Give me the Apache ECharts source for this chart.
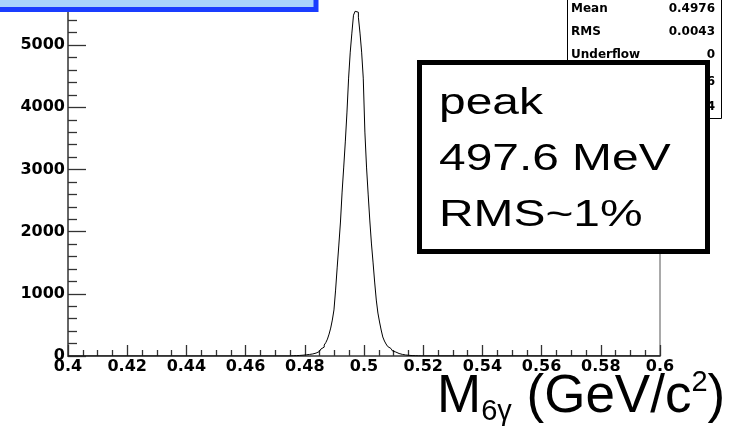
<!DOCTYPE html>
<html><head><meta charset="utf-8">
<script src="https://cdn.jsdelivr.net/npm/echarts@6/dist/echarts.min.js"></script>
<style>html,body{margin:0;padding:0;background:#fff;overflow:hidden;width:735px;height:427px;position:relative}
#c{position:absolute;left:0;top:-17px;width:735px;height:444px}</style>
</head><body><div id="c"></div>
<script>
// ---- data ----
const binStart = 0.475;      // GeV/c^2, left edge of first filled bin
const binWidth = 0.00055;    // GeV/c^2
const counts = [
  3, 4, 5, 6, 7, 9, 11, 13, 16, 19,
  22, 25, 28, 33, 39, 47, 58, 71, 88, 112,
  143, 176, 216, 272, 352, 449, 578, 741, 1060, 1430,
  1785, 2155, 2637, 3039, 3457, 3924, 4470, 4888, 5194, 5482,
  5545, 5530, 5450, 5194, 4888, 4470, 3602, 3039, 2605, 2187,
  1817, 1511, 1190, 900, 691, 547, 418, 306, 241, 193,
  153, 121, 96, 80, 64, 51, 40, 32, 26, 21,
  17, 14, 11, 9, 7, 6, 5, 4, 3, 3, 2
];
const xRange = [0.4, 0.6];
const xTickLabels = ['0.4','0.42','0.44','0.46','0.48','0.5','0.52','0.54','0.56','0.58','0.6'];
const yTickLabels = ['0','1000','2000','3000','4000','5000'];
const statsLabels = ['Mean','RMS','Underflow'];
const statsValues = ['0.4976','0.0043','0'];
const statsTailDigits = ['6','4'];
const peakNote = ['peak','497.6 MeV','RMS~1%'];

// ---- build histogram outline points (bin left edges, step 'end') ----
const pts = [[xRange[0], 0]];
counts.forEach((c, i) => pts.push([binStart + i * binWidth, c]));
pts.push([binStart + counts.length * binWidth, 0]);
pts.push([xRange[1], 0]);

const OFF = 17; // chart canvas starts 17px above the page
const chart = echarts.init(document.getElementById('c'), null, {renderer: 'canvas'});
const lblFont = {fontFamily: 'DejaVu Sans', fontWeight: 'bold', fontSize: 16, color: '#000'};
const statFont = 'bold 12px "DejaVu Sans"';

const graphics = [
  {type: 'rect', z: 100, shape: {x: -3, y: -40 + OFF, width: 319, height: 49.5},
   style: {fill: '#a9d4fc', stroke: '#1a3dff', lineWidth: 5}},
  {type: 'rect', z: 100, shape: {x: 567.5, y: -10 + OFF, width: 154, height: 128.5},
   style: {fill: '#fff', stroke: '#000', lineWidth: 1}}
];
const rowY = [9, 31.5, 55, 81.5, 107];
statsLabels.forEach((t, i) => {
  graphics.push({type: 'text', z: 101, style: {text: t, x: 571, y: rowY[i] + OFF, font: statFont, fill: '#000',
    textAlign: 'left', align: 'left', textVerticalAlign: 'middle', verticalAlign: 'middle'}});
  graphics.push({type: 'text', z: 101, style: {text: statsValues[i], x: 715, y: rowY[i] + OFF, font: statFont, fill: '#000',
    textAlign: 'right', align: 'right', textVerticalAlign: 'middle', verticalAlign: 'middle'}});
});
statsTailDigits.forEach((t, i) => {
  graphics.push({type: 'text', z: 101, style: {text: t, x: 715, y: rowY[3 + i] + OFF, font: statFont, fill: '#000',
    textAlign: 'right', align: 'right', textVerticalAlign: 'middle', verticalAlign: 'middle'}});
});
graphics.push({type: 'rect', z: 102, shape: {x: 419.5, y: 62.5 + OFF, width: 288, height: 189},
  style: {fill: '#fff', stroke: '#000', lineWidth: 5}});
graphics.push({type: 'text', z: 103, x: 439, y: 76 + OFF, scaleX: 1.33, scaleY: 1,
  style: {text: peakNote.join('\n'), x: 0, y: 0, font: '36px "Liberation Sans"', fill: '#000', lineHeight: 56,
    textAlign: 'left', align: 'left', textVerticalAlign: 'top', verticalAlign: 'top'}});
graphics.push({type: 'text', z: 103, x: 437, y: 368 + OFF,
  style: {text: '{m|M}{s|6γ}{m| (GeV/c}{p|2}{m|)}', x: 0, y: 0, fill: '#000',
    textAlign: 'left', align: 'left', textVerticalAlign: 'top', verticalAlign: 'top',
    rich: {
      m: {fontFamily: 'Liberation Sans', fontSize: 53, lineHeight: 58, verticalAlign: 'middle', fill: '#000'},
      s: {fontFamily: 'Liberation Sans', fontSize: 29, lineHeight: 30, verticalAlign: 'bottom', fill: '#000'},
      p: {fontFamily: 'Liberation Sans', fontSize: 29, lineHeight: 30, verticalAlign: 'top', fill: '#000'}
    }}});

chart.setOption({
  animation: false,
  backgroundColor: '#fff',
  grid: {left: 68, right: 75, top: 0, bottom: 71, show: true, borderColor: '#555', borderWidth: 1, backgroundColor: 'transparent'},
  xAxis: {
    type: 'value', min: xRange[0], max: xRange[1], interval: 0.02,
    axisLine: {show: true, onZero: false, lineStyle: {color: '#666', width: 2}},
    axisTick: {show: true, inside: true, length: 11, lineStyle: {color: '#333', width: 1.3}},
    minorTick: {show: true, splitNumber: 4, length: 6, lineStyle: {color: '#333', width: 1.3}},
    splitLine: {show: false}, minorSplitLine: {show: false},
    axisLabel: Object.assign({margin: 3, formatter: v => xTickLabels[Math.round((v - xRange[0]) / 0.02)] || ''}, lblFont)
  },
  yAxis: {
    type: 'value', min: 0, max: 6000, interval: 1000,
    axisLine: {show: true, onZero: false, lineStyle: {color: '#666', width: 2}},
    axisTick: {show: true, inside: true, length: 18, lineStyle: {color: '#333', width: 1.3}},
    minorTick: {show: true, splitNumber: 5, length: 9, lineStyle: {color: '#333', width: 1.3}},
    splitLine: {show: false}, minorSplitLine: {show: false},
    axisLabel: Object.assign({margin: 3, showMaxLabel: false, padding: [8, 0, 0, 0],
      formatter: v => yTickLabels[Math.round(v / 1000)] || ''}, lblFont)
  },
  series: [{
    type: 'line', data: pts, step: 'end', symbol: 'none', showSymbol: false,
    lineStyle: {color: '#000', width: 1}, z: 5
  }],
  graphic: graphics
});
</script>
</body></html>
